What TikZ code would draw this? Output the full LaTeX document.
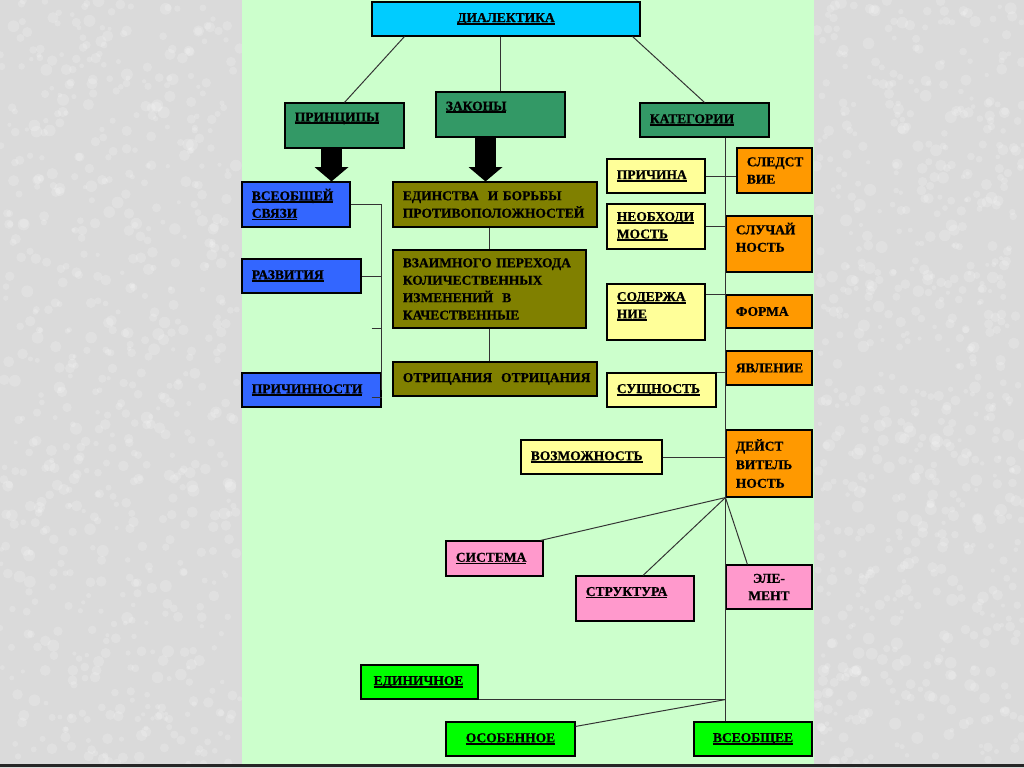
\documentclass[tikz,border=0pt]{standalone}
\usepackage{fontspec}
\setmainfont{Liberation Serif}[BoldFeatures={FakeBold=0.8}]
\usetikzlibrary{arrows.meta,calc}

\definecolor{panel}{HTML}{CCFFCC}
\definecolor{stone}{HTML}{DADADA}
\definecolor{skyc}{HTML}{00CCFF}
\definecolor{seac}{HTML}{339966}
\definecolor{bluec}{HTML}{3366FF}
\definecolor{olivec}{HTML}{808000}
\definecolor{creamc}{HTML}{FFFF99}
\definecolor{amberc}{HTML}{FF9900}
\definecolor{rosec}{HTML}{FF99CC}
\definecolor{limec}{HTML}{00FF00}

% underlined word, one line
\newcommand{\undl}[1]{\leavevmode\setbox0=\hbox{#1}\rlap{\rule[-1.8pt]{\wd0}{1.2pt}}\box0}

% box from pixel corners: name, x1, y1, x2, y2, options, text
\newcommand{\kbox}[7]{%
  \pgfmathsetlengthmacro{\kwid}{(#4-#2)*0.025cm}%
  \pgfmathsetlengthmacro{\khgt}{(#5-#3)*0.025cm}%
  \pgfmathsetlengthmacro{\ktxt}{(#4-#2)*0.025cm-14pt}%
  \node[kbox, #6, minimum width=\kwid, minimum height=\khgt, text width=\ktxt]
    (#1) at ({(#2+#4)/2},{(#3+#5)/2}) {#7};}

\tikzset{
  kbox/.style={draw=black, line width=0.8pt, rectangle, inner xsep=7pt, inner ysep=0pt,
    align=left, text=black, font=\bfseries\fontsize{9.6}{12.4}\selectfont},
  link/.style={draw=black!80, line width=0.7pt},
  fat/.style={line width=0.54cm, black,
    -{Triangle[width=0.85cm, length=0.36cm, line width=0pt]}},
}

\begin{document}
\begin{tikzpicture}[x=0.025cm, y=-0.025cm]
\useasboundingbox (0,0) rectangle (1024,768);

% background
\fill[stone] (0,0) rectangle (1024,768);
\pgfmathsetseed{7}
\foreach \i in {1,...,700} {
  \fill[white, opacity=0.18] ({rnd*240},{rnd*764}) circle ({2+rnd*4});
  \fill[white, opacity=0.18] ({816+rnd*208},{rnd*764}) circle ({2+rnd*4});
}
\fill[panel] (242,0) rectangle (814,764);
\draw[line width=1.5pt, black!85] (0,765.5) -- (1024,765.5);

% top level
\kbox{dial}{372}{2}{640}{36}{fill=skyc, align=center}{\undl{ДИАЛЕКТИКА}}
\kbox{princ}{285}{103}{404}{148}{fill=seac, text depth=12pt}{\undl{ПРИНЦИПЫ}}
\kbox{zak}{436}{92}{565}{137}{fill=seac, text depth=12pt}{\undl{ЗАКОНЫ}}
\kbox{kat}{640}{103}{769}{137}{fill=seac}{\undl{КАТЕГОРИИ}}

% principles
\begin{scope}[every node/.append style={fill=bluec}]
\kbox{vseob}{242}{182}{350}{227}{}{\undl{ВСЕОБЩЕЙ}\\\undl{СВЯЗИ}}
\kbox{razv}{242}{259}{361}{293}{}{\undl{РАЗВИТИЯ}}
\kbox{prich}{242}{373}{381}{407}{}{\undl{ПРИЧИННОСТИ}}
\end{scope}

% laws
\begin{scope}[every node/.append style={fill=olivec}]
\kbox{edin}{393}{182}{597}{227}{}{\mbox{ЕДИНСТВА\ \ И БОРЬБЫ}\\\mbox{ПРОТИВОПОЛОЖНОСТЕЙ}}
\kbox{vzaim}{393}{250}{586}{328}{}{\mbox{ВЗАИМНОГО ПЕРЕХОДА}\\\mbox{КОЛИЧЕСТВЕННЫХ}\\\mbox{ИЗМЕНЕНИЙ\ \ В}\\\mbox{КАЧЕСТВЕННЫЕ}}
\kbox{otric}{393}{362}{597}{396}{}{\mbox{ОТРИЦАНИЯ\ \ ОТРИЦАНИЯ}}
\end{scope}

% categories, left column
\begin{scope}[every node/.append style={fill=creamc}]
\kbox{prichina}{607}{159}{705}{193}{}{\undl{ПРИЧИНА}}
\kbox{neobh}{607}{204}{705}{249}{}{\undl{НЕОБХОДИ}\\\undl{МОСТЬ}}
\kbox{soder}{607}{284}{705}{340}{text depth=22pt}{\undl{СОДЕРЖА}\\\undl{НИЕ}}
\kbox{sushch}{607}{373}{716}{407}{}{\undl{СУЩНОСТЬ}}
\kbox{vozm}{521}{440}{662}{474}{}{\undl{ВОЗМОЖНОСТЬ}}
\end{scope}

% categories, right column
\begin{scope}[every node/.append style={fill=amberc}]
\kbox{sledst}{737}{148}{812}{193}{}{СЛЕДСТ\\ВИЕ}
\kbox{sluch}{726}{216}{812}{272}{text depth=22pt}{СЛУЧАЙ\\НОСТЬ}
\kbox{forma}{726}{295}{812}{328}{}{ФОРМА}
\kbox{yavl}{726}{351}{812}{385}{}{ЯВЛЕНИЕ}
\kbox{deistv}{726}{430}{812}{497}{}{ДЕЙСТ\\[0.8pt]ВИТЕЛЬ\\[0.8pt]НОСТЬ}
\end{scope}

\begin{scope}[every node/.append style={fill=rosec}]
\kbox{sist}{446}{541}{543}{576}{}{\undl{СИСТЕМА}}
\kbox{strukt}{576}{576}{694}{621}{text depth=10pt}{\undl{СТРУКТУРА}}
\kbox{elem}{726}{565}{812}{609}{align=center}{ЭЛЕ-\\МЕНТ}
\end{scope}

\begin{scope}[every node/.append style={fill=limec}]
\kbox{edinich}{361}{665}{478}{699}{}{\hspace*{2pt}\undl{ЕДИНИЧНОЕ}}
\kbox{osob}{446}{722}{575}{756}{align=center}{\undl{ОСОБЕННОЕ}}
\kbox{vseobshee}{694}{722}{812}{756}{align=center}{\undl{ВСЕОБЩЕЕ}}
\end{scope}

% thin connectors
\begin{scope}[link]
\draw ($(dial.south west)+(33,0)$) -- (princ.north);
\draw (zak.north |- dial.south) -- (zak.north);
\draw ($(dial.south east)+(-8,0)$) -- (kat.north);

\draw (vseob.east) -| (prich.east);
\draw (razv.east) -- (razv.east -| prich.east);
\draw ($(prich.north east)+(-10,-44)$) -- ++(10,0);
\draw ($(prich.south east)+(-10,-10)$) -- ++(10,0);

\draw (vzaim.north |- edin.south) -- (vzaim.north);
\draw (vzaim.south) -- (vzaim.south |- otric.north);

\draw (kat.south -| sluch.west) -- (vseobshee.north -| sluch.west);
\draw (prichina.east) -- (prichina.east -| sledst.west);
\draw (neobh.east) -- (neobh.east -| sluch.west);
\draw (forma.north west -| soder.east) -- (forma.north west);
\draw (sushch.north east) -- (sushch.north east -| yavl.west);
\draw (vozm.east) -- (vozm.east -| deistv.west);

\draw (deistv.south west) -- ($(sist.north east)+(-3,0)$);
\draw (deistv.south west) -- ($(strukt.north)+(8,0)$);
\draw (deistv.south west) -- ($(elem.north west)+(22,0)$);

\draw (edinich.south east) -- (edinich.south -| sluch.west);
\draw ($(osob.north east)+(0,5)$) -- (edinich.south -| sluch.west);
\end{scope}

% block arrows
\draw[fat] ($(princ.south)+(-13,0)$) coordinate (pa) -- (pa |- vseob.north);
\draw[fat] ($(zak.south)+(-15,0)$) coordinate (za) -- (za |- edin.north);

\end{tikzpicture}
\end{document}
